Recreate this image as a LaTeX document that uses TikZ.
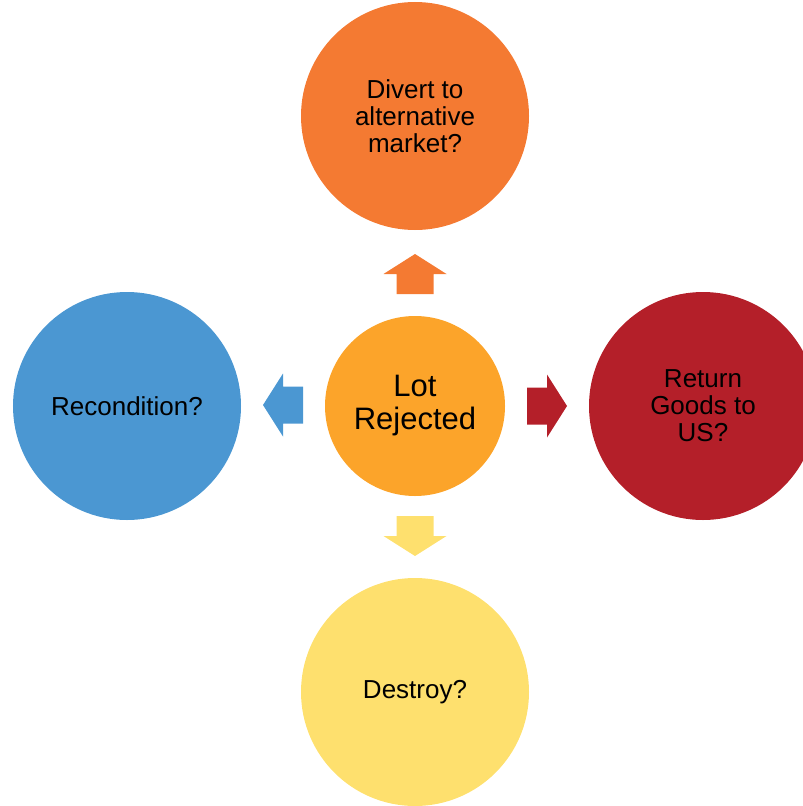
\documentclass[tikz,border=0pt]{standalone}
\usepackage{fontspec}
\setmainfont{Liberation Sans}
\definecolor{divertorange}{HTML}{F47A32}
\definecolor{lotorange}{HTML}{FCA42A}
\definecolor{returnred}{HTML}{B41F29}
\definecolor{recondblue}{HTML}{4B97D2}
\definecolor{destroyyellow}{HTML}{FEE06E}
\begin{document}
\begin{tikzpicture}[x=1bp,y=-1bp,
  bubble/.style={circle,fill=#1,draw=none,minimum size=228bp,inner sep=0pt,
    align=center,font=\fontsize{26bp}{27bp}\selectfont}]
\useasboundingbox (0,0) rectangle (803,806);
\clip (0,0) rectangle (803,806);

% centre
\node[bubble=lotorange,minimum size=180bp,font=\fontsize{31bp}{33bp}\selectfont]
  (lot) at (415,406) {Lot\\Rejected};

% outer choices
\node[bubble=divertorange] (divert) at (415,116) {Divert to\\alternative\\market?};
\node[bubble=recondblue] (recond) at (127,406) {Recondition?};
\node[bubble=returnred] (return) at (703,406) {Return\\Goods to\\US?};
\node[bubble=destroyyellow] (destroy) at (415,692) {Destroy?};

% block arrows between
\foreach \clr/\ang/\x/\y in {divertorange/90/415/274, recondblue/180/283/405,
    returnred/0/547/406, destroyyellow/-90/415/536}{
  \fill[\clr,shift={(\x,\y)},rotate=\ang]
    (-20,-18.5) -- (0,-18.5) -- (0,-31.5) -- (20,0) -- (0,31.5) -- (0,18.5)
    -- (-20,18.5) -- cycle;
}
\end{tikzpicture}
\end{document}
